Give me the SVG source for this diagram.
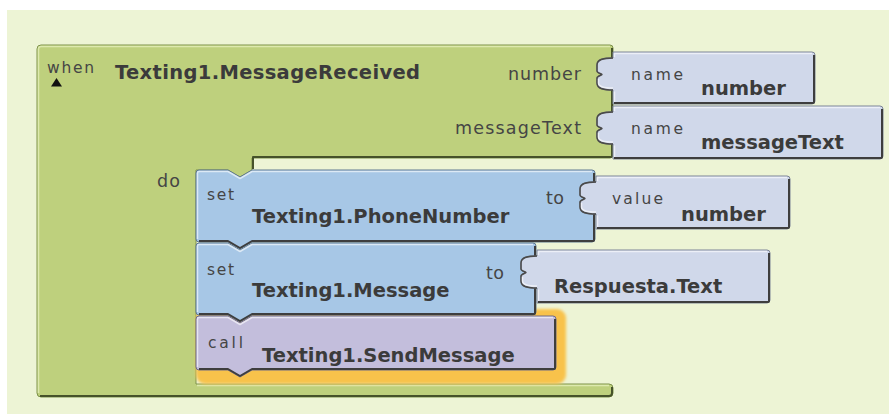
<svg xmlns="http://www.w3.org/2000/svg" width="890" height="415" viewBox="0 0 890 415">
  <style>
    .lbl { font-family: "DejaVu Sans", "Liberation Sans", sans-serif; fill: #454545; }
    .sm { font-size: 15.5px; }
    .md { font-size: 17.5px; }
    .bd { font-family: "DejaVu Sans", "Liberation Sans", sans-serif; font-weight: bold; font-size: 19.5px; fill: #3b3b3b; }
    .green { fill: #bed07d; stroke: #7d914a; stroke-width: 1; }
    .blue { fill: #a7c7e6; stroke: #5f7890; stroke-width: 1; }
    .purple { fill: #c3bedc; stroke: #6f6a88; stroke-width: 1; }
    .lav { fill: #d0d8ea; stroke: #7d8496; stroke-width: 1; }
    .tab { fill: none; stroke: #4a4a4a; stroke-width: 1.5; stroke-linejoin: round; }
    .shade { fill: none; stroke: #3e3e3e; stroke-width: 2; stroke-linejoin: round; }
    .gshade { fill: none; stroke: #46522a; stroke-width: 2; stroke-linejoin: round; }
    .light { fill: none; stroke: #ffffff; stroke-opacity: 0.6; stroke-width: 1.5; stroke-linejoin: round; }
    .glight { fill: none; stroke: #dde9ae; stroke-width: 1.5; }
  </style>
  <defs>
    <filter id="soft" x="-10%" y="-10%" width="120%" height="120%">
      <feGaussianBlur stdDeviation="1.6"/>
    </filter>
  </defs>

  <!-- workspace -->
  <rect x="0" y="0" width="890" height="415" fill="#ffffff"/>
  <rect x="7" y="10" width="882" height="404" fill="#edf4d5"/>

  <!-- event block -->
  <g id="when-message-received">
    <path class="green" d="M41,45 H610 Q613,45 613,48 V155 Q613,158 610,158 H252 V170 L240,177 L228,170 H196 V384 H609 Q613,384 613,388 V393 Q613,397 609,397 H41 Q37,397 37,393 V49 Q37,45 41,45 Z"/>
    <path class="glight" d="M38.5,393 V49 Q38.5,46.5 41,46.5 H610"/>
    <path class="glight" d="M197,385.5 H609"/>
    <path class="gshade" d="M612,48 V156 Q612,157 610,157 H253 V169"/>
    <path class="gshade" d="M612,387 V393 Q612,396 609,396 H40"/>
    <path d="M56.5,78 L62,86.5 L51,86.5 Z" fill="#111111"/>
    <text class="lbl sm" x="47" y="73" textLength="47" lengthAdjust="spacing">when</text>
    <text class="bd" x="115" y="79" textLength="305" lengthAdjust="spacing">Texting1.MessageReceived</text>
    <text class="lbl md" x="508" y="80" textLength="73" lengthAdjust="spacing">number</text>
    <text class="lbl md" x="455" y="134" textLength="126" lengthAdjust="spacing">messageText</text>
    <text class="lbl md" x="157" y="187" textLength="23" lengthAdjust="spacing">do</text>
  </g>

  <!-- selection highlight of the call block -->
  <rect x="196" y="309" width="370" height="75" rx="9" fill="#f8c24c" filter="url(#soft)"/>

  <!-- set Texting1.PhoneNumber -->
  <g id="set-phone-number">
    <g transform="translate(196,170)">
      <path class="blue" d="M3,0 H32 L44,7 L56,0 H396 Q399,0 399,3 V69 Q399,72 396,72 H56 L44,79 L32,72 H3 Q0,72 0,69 V3 Q0,0 3,0 Z"/>
      <path class="light" d="M1.5,69 V3 Q1.5,1.5 3,1.5 H32 L44,8.5 L56,1.5 H396"/>
      <path class="shade" d="M398,3 V70 Q398,71 396,71 H56 L44,78 L32,71 H3"/>
    </g>
    <text class="lbl sm" x="207" y="200" textLength="27" lengthAdjust="spacing">set</text>
    <text class="bd" x="252" y="223">Texting1.PhoneNumber</text>
    <text class="lbl md" x="546" y="204" textLength="18" lengthAdjust="spacing">to</text>
  </g>

  <!-- set Texting1.Message -->
  <g id="set-message">
    <g transform="translate(196,243)">
      <path class="blue" d="M3,0 H32 L44,7 L56,0 H337 Q340,0 340,3 V69 Q340,72 337,72 H56 L44,79 L32,72 H3 Q0,72 0,69 V3 Q0,0 3,0 Z"/>
      <path class="light" d="M1.5,69 V3 Q1.5,1.5 3,1.5 H32 L44,8.5 L56,1.5 H337"/>
      <path class="shade" d="M339,3 V70 Q339,71 337,71 H56 L44,78 L32,71 H3"/>
    </g>
    <text class="lbl sm" x="207" y="275" textLength="27" lengthAdjust="spacing">set</text>
    <text class="bd" x="252" y="297">Texting1.Message</text>
    <text class="lbl md" x="486" y="279" textLength="18" lengthAdjust="spacing">to</text>
  </g>

  <!-- call Texting1.SendMessage -->
  <g id="call-send-message">
    <g transform="translate(196,316)">
      <path class="purple" d="M3,0 H32 L44,7 L56,0 H357 Q360,0 360,3 V51 Q360,54 357,54 H56 L44,61 L32,54 H3 Q0,54 0,51 V3 Q0,0 3,0 Z"/>
      <path class="light" d="M1.5,51 V3 Q1.5,1.5 3,1.5 H32 L44,8.5 L56,1.5 H357"/>
      <path class="shade" d="M359,3 V52 Q359,53 357,53 H56 L44,60 L32,53 H3"/>
    </g>
    <text class="lbl sm" x="208" y="348" textLength="35" lengthAdjust="spacing">call</text>
    <text class="bd" x="262" y="362">Texting1.SendMessage</text>
  </g>

  <!-- name number -->
  <g id="name-number">
    <g transform="translate(613,52)">
      <path class="lav" d="M0,0 H199 Q202,0 202,3 V49 Q202,52 199,52 H0 V38 C-9,38 -16,37 -16,31 V26 C-16,24 -11,23 -11,22.5 C-11,22 -16,21 -16,19 V13 C-16,7 -9,6 0,6 Z"/>
      <path class="tab" d="M0,38 C-9,38 -16,37 -16,31 V26 C-16,24 -11,23 -11,22.5 C-11,22 -16,21 -16,19 V13 C-16,7 -9,6 0,6"/>
      <path class="light" d="M1.5,50 V39.5 M-14.5,27 V31 C-14.5,34.5 -8,36 0,36 M1.5,5 V1.5 H199"/>
      <path class="shade" d="M201,3 V50 Q201,51 199,51 H1"/>
    </g>
    <text class="lbl sm" x="631" y="80" textLength="52" lengthAdjust="spacing">name</text>
    <text class="bd" x="701" y="95">number</text>
  </g>

  <!-- name messageText -->
  <g id="name-message-text">
    <g transform="translate(613,106)">
      <path class="lav" d="M0,0 H267 Q270,0 270,3 V50 Q270,53 267,53 H0 V38 C-9,38 -16,37 -16,31 V26 C-16,24 -11,23 -11,22.5 C-11,22 -16,21 -16,19 V13 C-16,7 -9,6 0,6 Z"/>
      <path class="tab" d="M0,38 C-9,38 -16,37 -16,31 V26 C-16,24 -11,23 -11,22.5 C-11,22 -16,21 -16,19 V13 C-16,7 -9,6 0,6"/>
      <path class="light" d="M1.5,51 V39.5 M-14.5,27 V31 C-14.5,34.5 -8,36 0,36 M1.5,5 V1.5 H267"/>
      <path class="shade" d="M269,3 V51 Q269,52 267,52 H1"/>
    </g>
    <text class="lbl sm" x="631" y="134" textLength="52" lengthAdjust="spacing">name</text>
    <text class="bd" x="701" y="149">messageText</text>
  </g>

  <!-- value number -->
  <g id="value-number">
    <g transform="translate(596,176)">
      <path class="lav" d="M0,0 H191 Q194,0 194,3 V50 Q194,53 191,53 H0 V38 C-9,38 -16,37 -16,31 V26 C-16,24 -11,23 -11,22.5 C-11,22 -16,21 -16,19 V13 C-16,7 -9,6 0,6 Z"/>
      <path class="tab" d="M0,38 C-9,38 -16,37 -16,31 V26 C-16,24 -11,23 -11,22.5 C-11,22 -16,21 -16,19 V13 C-16,7 -9,6 0,6"/>
      <path class="light" d="M1.5,51 V39.5 M-14.5,27 V31 C-14.5,34.5 -8,36 0,36 M1.5,5 V1.5 H191"/>
      <path class="shade" d="M193,3 V51 Q193,52 191,52 H1"/>
    </g>
    <text class="lbl sm" x="612" y="204" textLength="51" lengthAdjust="spacing">value</text>
    <text class="bd" x="681" y="221">number</text>
  </g>

  <!-- Respuesta.Text -->
  <g id="respuesta-text">
    <g transform="translate(537,250)">
      <path class="lav" d="M0,0 H230 Q233,0 233,3 V50 Q233,53 230,53 H0 V38 C-9,38 -16,37 -16,31 V26 C-16,24 -11,23 -11,22.5 C-11,22 -16,21 -16,19 V13 C-16,7 -9,6 0,6 Z"/>
      <path class="tab" d="M0,38 C-9,38 -16,37 -16,31 V26 C-16,24 -11,23 -11,22.5 C-11,22 -16,21 -16,19 V13 C-16,7 -9,6 0,6"/>
      <path class="light" d="M1.5,51 V39.5 M-14.5,27 V31 C-14.5,34.5 -8,36 0,36 M1.5,5 V1.5 H230"/>
      <path class="shade" d="M232,3 V51 Q232,52 230,52 H1"/>
    </g>
    <text class="bd" x="554" y="293">Respuesta.Text</text>
  </g>

  <!-- blocks snap together directly, so the connector layer stays empty -->
  <g id="connectors"/>
</svg>
